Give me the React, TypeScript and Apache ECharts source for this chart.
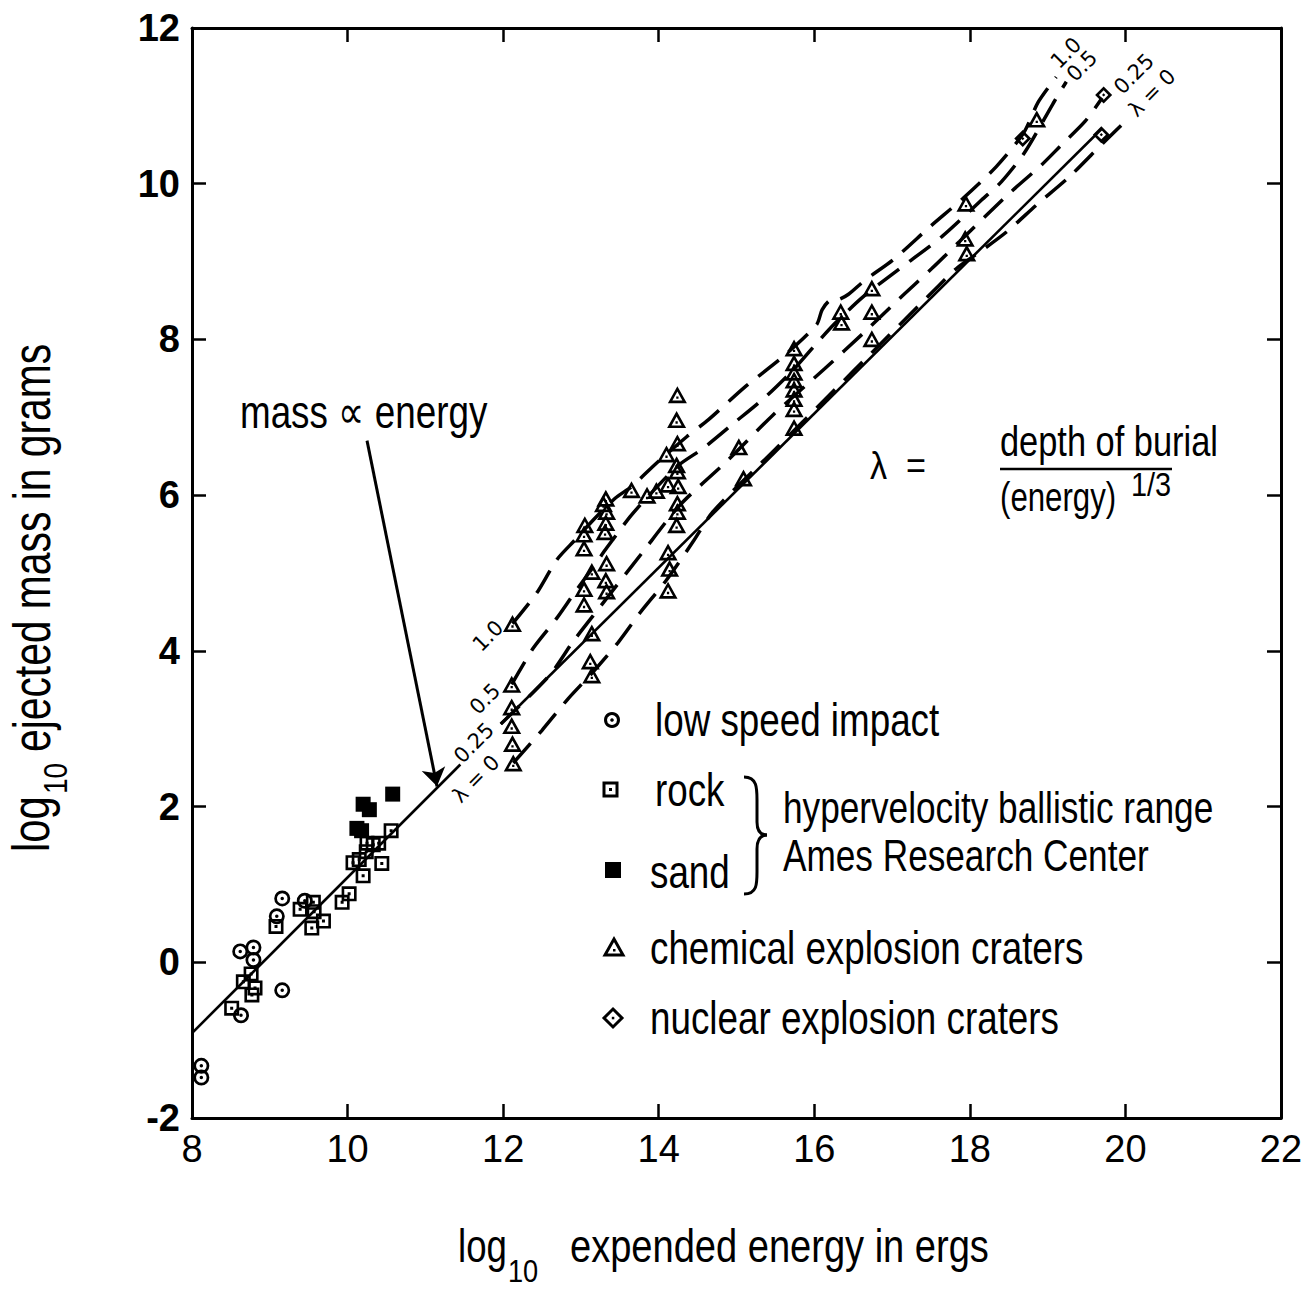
import React, { useEffect, useRef } from "react";
import * as echarts from "echarts";

// ---------- data ----------
const xTicks = [8, 10, 12, 14, 16, 18, 20, 22];
const yTicks = [-2, 0, 2, 4, 6, 8, 10, 12];

const lowSpeedImpact: number[][] = [
  [8.12, -1.33], [8.12, -1.48], [8.63, -0.68], [9.16, -0.36], [8.62, 0.14],
  [8.79, 0.19], [8.79, 0.03], [9.09, 0.59], [9.16, 0.82], [9.45, 0.79],
];
const rock: number[][] = [
  [8.51, -0.59], [8.66, -0.25], [8.76, -0.15], [8.81, -0.33], [8.77, -0.42],
  [9.08, 0.46], [9.39, 0.68], [9.56, 0.77], [9.57, 0.65], [9.54, 0.44],
  [9.69, 0.53], [9.93, 0.77], [10.02, 0.88], [10.07, 1.28], [10.2, 1.11],
  [10.15, 1.32], [10.24, 1.42], [10.25, 1.53], [10.33, 1.51], [10.4, 1.53],
  [10.44, 1.27], [10.56, 1.69],
];
const sand: number[][] = [
  [10.58, 2.16], [10.2, 2.03], [10.28, 1.96], [10.12, 1.72], [10.18, 1.69],
];
const chemical: number[][] = [
  [14.24, 7.29], [14.23, 6.97], [14.24, 6.67], [14.1, 6.53], [14.23, 6.39], [14.24, 6.31],
  [13.65, 6.07], [13.85, 6.0], [13.97, 6.06], [14.12, 6.14], [14.25, 6.12],
  [13.32, 5.96], [13.29, 5.89], [13.33, 5.79], [13.32, 5.65], [13.31, 5.53],
  [13.05, 5.62], [13.04, 5.5], [13.04, 5.32], [14.24, 5.9], [14.24, 5.79], [14.23, 5.62],
  [14.12, 5.27], [14.14, 5.06], [14.12, 4.78], [13.33, 5.13], [13.14, 5.02], [13.32, 4.91],
  [13.33, 4.77], [13.04, 4.8], [13.04, 4.6], [12.12, 4.35], [13.14, 4.23], [13.12, 3.87],
  [13.14, 3.69], [12.11, 3.57], [12.11, 3.28], [12.11, 3.04], [12.12, 2.81], [12.13, 2.56],
  [16.34, 8.36], [16.35, 8.22], [16.74, 8.66], [16.74, 8.36], [16.74, 8.01],
  [15.03, 6.62], [15.09, 6.22],
  [15.74, 7.89], [15.74, 7.7], [15.74, 7.58], [15.74, 7.48], [15.74, 7.36], [15.74, 7.24],
  [15.74, 7.11], [15.74, 6.87],
  [17.95, 9.75], [17.94, 9.3], [17.96, 9.11], [18.86, 10.83],
];
const nuclear: number[][] = [[18.68, 10.58], [19.72, 11.14], [19.69, 10.63]];

const massEnergyLow: number[][] = [[8, -0.91], [11.45, 2.54]];
const massEnergyHigh: number[][] = [[11.97, 3.06], [19.69, 10.7]];
const arrowLine: number[][] = [[10.25, 6.7], [11.15, 2.26]];

const lambda10: number[][] = [
  [12.12, 4.35], [12.43, 4.74], [12.69, 5.17], [12.92, 5.42], [13.12, 5.64], [13.44, 5.96],
  [13.65, 6.11], [13.97, 6.41], [14.36, 6.75], [14.64, 6.97], [15.11, 7.39], [15.6, 7.78],
  [16.03, 8.19], [16.1, 8.38], [16.2, 8.5], [16.31, 8.51], [16.44, 8.58], [16.65, 8.76],
  [17.01, 9.02], [17.49, 9.45], [17.91, 9.81], [18.34, 10.22], [18.69, 10.65], [18.88, 11.05],
  [19.11, 11.37],
];
const lambda05: number[][] = [
  [12.11, 3.57], [12.39, 4.04], [12.69, 4.42], [12.9, 4.72], [13.16, 5.08], [13.33, 5.32],
  [13.63, 5.72], [13.85, 5.97], [14.25, 6.38], [14.57, 6.6], [14.96, 6.92], [15.37, 7.26],
  [15.73, 7.61], [16.03, 7.95], [16.27, 8.21], [16.63, 8.55], [17.1, 8.91], [17.64, 9.32],
  [18.15, 9.79], [18.41, 10.03], [18.71, 10.41], [19.07, 11.03], [19.24, 11.31],
];
const lambda025: number[][] = [
  [11.97, 3.06], [12.6, 3.69], [12.9, 4.12], [13.25, 4.57], [13.78, 5.25], [14.28, 5.88],
  [14.87, 6.43], [15.47, 7.03], [16.14, 7.63], [16.63, 8.08], [17.1, 8.53], [17.51, 8.91],
  [17.87, 9.26], [18.49, 9.86], [18.92, 10.24], [19.16, 10.48], [19.48, 10.8], [19.7, 11.1],
];
const lambda0: number[][] = [
  [12.13, 2.56], [12.5, 2.98], [12.84, 3.39], [13.12, 3.69], [13.48, 4.11], [13.76, 4.49],
  [14.1, 4.91], [14.44, 5.4], [14.7, 5.79], [15.5, 6.59], [16.5, 7.59], [17.6, 8.69],
  [17.85, 8.93], [18.15, 9.14], [18.47, 9.38], [18.86, 9.73], [19.28, 10.09], [19.71, 10.52],
  [20.06, 10.86],
];

const legendItems = [
  "low speed impact",
  "rock",
  "sand",
  "chemical explosion craters",
  "nuclear explosion craters",
];

// ---------- styling ----------
const FONT = '"Liberation Sans", Arial, sans-serif';
const INK = "#000";

const ringPath =
  "path://M0,-10A10,10,0,1,1,0,10A10,10,0,1,1,0,-10ZM0,-6.6A6.6,6.6,0,1,0,0,6.6A6.6,6.6,0,1,0,0,-6.6ZM0,-2.2A2.2,2.2,0,1,1,0,2.2A2.2,2.2,0,1,1,0,-2.2Z";
const squarePath =
  "path://M-10,-10L10,-10L10,10L-10,10ZM-6.5,-6.5L-6.5,6.5L6.5,6.5L6.5,-6.5ZM-2,-2L2,-2L2,2L-2,2Z";
const trianglePath =
  "path://M0,-10L11,9L-11,9ZM0,-4L-5.8,6L5.8,6ZM-1.3,1.4L1.3,1.4L1.3,4L-1.3,4Z";
const diamondPath =
  "path://M0,-10L10,0L0,10L-10,0ZM0,-5.5L-5.5,0L0,5.5L5.5,0ZM0,-1.9L1.9,0L0,1.9L-1.9,0Z";

const dashed = { color: INK, width: 3.5, type: [26, 13] as number[], cap: "butt" };

function curve(name: string, data: number[][]) {
  return {
    name,
    type: "line",
    data,
    smooth: 0.25,
    symbol: "none",
    showSymbol: false,
    silent: true,
    lineStyle: dashed,
    z: 3,
  };
}

function solid(name: string, data: number[][]) {
  return {
    name,
    type: "line",
    data,
    symbol: "none",
    showSymbol: false,
    silent: true,
    lineStyle: { color: INK, width: 2.6, type: "solid" },
    z: 3,
  };
}

function scatter(name: string, data: number[][], symbol: string, size: number | number[]) {
  return {
    name,
    type: "scatter",
    data,
    symbol,
    symbolSize: size,
    itemStyle: { color: INK, borderWidth: 0, opacity: 1 },
    silent: true,
    z: 6,
  };
}

// condensed text: regular font squeezed horizontally
function text(t: string, x: number, y: number, size: number, sx = 0.8, extra: any = {}) {
  return {
    type: "text",
    x,
    y,
    scaleX: sx,
    z: 20,
    silent: true,
    style: {
      text: t,
      fontSize: size,
      fontFamily: FONT,
      fill: INK,
      align: "left",
      verticalAlign: "middle",
      ...extra,
    },
  };
}

function rotLabel(t: string, x: number, y: number) {
  return {
    type: "text",
    x,
    y,
    rotation: Math.PI / 4,
    z: 20,
    silent: true,
    style: {
      text: t,
      fontSize: 21,
      fontFamily: '"DejaVu Sans", sans-serif',
      fill: INK,
      align: "center",
      verticalAlign: "middle",
    },
  };
}

function buildGraphics() {
  const g: any[] = [];
  // annotation
  g.push(text("mass \u221D energy", 240, 412, 46, 0.8));
  // lambda definition
  g.push(text("\u03BB  =", 870, 466, 38, 0.9));
  g.push(text("depth of burial", 1000, 441, 43, 0.8));
  g.push({
    type: "line",
    z: 20,
    silent: true,
    shape: { x1: 1000, y1: 469, x2: 1172, y2: 469 },
    style: { stroke: INK, lineWidth: 2.5 },
  });
  g.push(text("(energy)", 1000, 498, 40, 0.78));
  g.push(text("1/3", 1131, 484, 34, 0.85));

  // curve labels (lower left)
  g.push(rotLabel("1.0", 488, 636));
  g.push(rotLabel("0.5", 485, 699));
  g.push(rotLabel("0.25", 474, 743));
  g.push(rotLabel("\u03BB = 0", 476, 779));
  // curve labels (upper right)
  g.push(rotLabel("1.0", 1066, 53));
  g.push(rotLabel("0.5", 1082, 66));
  g.push(rotLabel("0.25", 1134, 74));
  g.push(rotLabel("\u03BB = 0", 1152, 93));

  // legend symbols
  const sym = { stroke: INK, lineWidth: 3, fill: "#fff" };
  g.push({ type: "circle", z: 20, shape: { cx: 612, cy: 720, r: 6.5 }, style: sym });
  g.push({ type: "circle", z: 21, shape: { cx: 612, cy: 720, r: 1.8 }, style: { fill: INK } });
  g.push({ type: "rect", z: 20, shape: { x: 604, y: 783, width: 13, height: 13 }, style: sym });
  g.push({ type: "rect", z: 21, shape: { x: 609, y: 788, width: 3, height: 3 }, style: { fill: INK } });
  g.push({ type: "rect", z: 20, shape: { x: 605, y: 862, width: 16, height: 16 }, style: { fill: INK } });
  g.push({
    type: "polygon", z: 20,
    shape: { points: [[614, 939], [623, 955], [605, 955]] },
    style: { ...sym, lineWidth: 3 },
  });
  g.push({ type: "rect", z: 21, shape: { x: 613, y: 949, width: 2.5, height: 2.5 }, style: { fill: INK } });
  g.push({
    type: "polygon", z: 20,
    shape: { points: [[613, 1009], [622, 1018], [613, 1027], [604, 1018]] },
    style: sym,
  });
  g.push({ type: "rect", z: 21, shape: { x: 611.8, y: 1016.8, width: 2.5, height: 2.5 }, style: { fill: INK } });

  // legend texts
  g.push(text(legendItems[0], 655, 720, 46, 0.8));
  g.push(text(legendItems[1], 655, 790, 46, 0.8));
  g.push(text(legendItems[2], 650, 872, 46, 0.8));
  g.push(text(legendItems[3], 650, 948, 46, 0.8));
  g.push(text(legendItems[4], 650, 1018, 46, 0.8));
  g.push(text("hypervelocity ballistic range", 783, 808, 44, 0.8));
  g.push(text("Ames Research Center", 783, 856, 44, 0.8));

  // brace
  const br = { stroke: INK, lineWidth: 3, fill: "none" };
  g.push({ type: "bezierCurve", z: 20, shape: { x1: 744, y1: 777, cpx1: 757, cpy1: 777, cpx2: 757, cpy2: 788, x2: 757, y2: 800 }, style: br });
  g.push({ type: "line", z: 20, shape: { x1: 757, y1: 800, x2: 757, y2: 822 }, style: br });
  g.push({ type: "bezierCurve", z: 20, shape: { x1: 757, y1: 822, cpx1: 757, cpy1: 832, cpx2: 761, cpy2: 835, x2: 767, y2: 835 }, style: br });
  g.push({ type: "bezierCurve", z: 20, shape: { x1: 767, y1: 835, cpx1: 761, cpy1: 835, cpx2: 757, cpy2: 839, x2: 757, y2: 849 }, style: br });
  g.push({ type: "line", z: 20, shape: { x1: 757, y1: 849, x2: 757, y2: 872 }, style: br });
  g.push({ type: "bezierCurve", z: 20, shape: { x1: 757, y1: 872, cpx1: 757, cpy1: 884, cpx2: 757, cpy2: 894, x2: 744, y2: 894 }, style: br });

  // axis titles
  g.push({
    type: "group",
    x: 32,
    y: 852,
    rotation: Math.PI / 2,
    silent: true,
    children: [
      text("log", 0, 0, 51, 0.82),
      text("10", 58, 24, 34, 0.82),
      text("ejected mass in grams", 100, 0, 51, 0.8),
    ],
  });
  g.push(text("log", 458, 1246, 47, 0.78));
  g.push(text("10", 508, 1271, 32, 0.85));
  g.push(text("expended energy in ergs", 570, 1246, 47, 0.81));
  return g;
}

function axisCommon(showLabel: boolean, isX: boolean) {
  return {
    type: "value",
    min: isX ? xTicks[0] : yTicks[0],
    max: isX ? xTicks[xTicks.length - 1] : yTicks[yTicks.length - 1],
    interval: 2,
    axisLine: { show: true, onZero: false, lineStyle: { color: INK, width: 3 } },
    axisTick: { show: true, inside: true, length: 14, lineStyle: { color: INK, width: 2.5 } },
    splitLine: { show: false },
    axisLabel: showLabel
      ? isX
        ? { margin: 12, color: INK, fontSize: 38, fontFamily: FONT }
        : { margin: 12, color: INK, fontSize: 38, fontWeight: "bold", fontFamily: FONT }
      : { show: false },
  };
}

export default function App() {
  const ref = useRef<HTMLDivElement>(null);
  useEffect(() => {
    if (!ref.current) return;
    const chart = echarts.init(ref.current, undefined, { renderer: "svg" });
    const option: any = {
      animation: false,
      backgroundColor: "#ffffff",
      grid: { left: 192, top: 28, right: 28, bottom: 175, containLabel: false },
      xAxis: [
        { ...axisCommon(true, true), position: "bottom" },
        { ...axisCommon(false, true), position: "top" },
      ],
      yAxis: [
        { ...axisCommon(true, false), position: "left" },
        { ...axisCommon(false, false), position: "right" },
      ],
      series: [
        solid("mass \u221D energy", massEnergyLow),
        solid("mass \u221D energy (upper)", massEnergyHigh),
        curve("\u03BB = 1.0", lambda10),
        curve("\u03BB = 0.5", lambda05),
        curve("\u03BB = 0.25", lambda025),
        curve("\u03BB = 0", lambda0),
        {
          type: "lines",
          coordinateSystem: "cartesian2d",
          silent: true,
          data: [{ coords: arrowLine }],
          symbol: ["none", "arrow"],
          symbolSize: 18,
          lineStyle: { color: INK, width: 3, opacity: 1 },
          z: 4,
        },
        scatter(legendItems[0], lowSpeedImpact, ringPath, 16),
        scatter(legendItems[1], rock, squarePath, 15),
        scatter(legendItems[2], sand, "rect", 15),
        scatter(legendItems[3], chemical, trianglePath, [19, 17]),
        scatter(legendItems[4], nuclear, diamondPath, 17),
      ],
      graphic: buildGraphics(),
    };
    chart.setOption(option);
    return () => chart.dispose();
  }, []);
  return (
    <div
      ref={ref}
      style={{ position: "fixed", left: 0, top: 0, width: "1309px", height: "1293px", background: "#fff" }}
    />
  );
}
